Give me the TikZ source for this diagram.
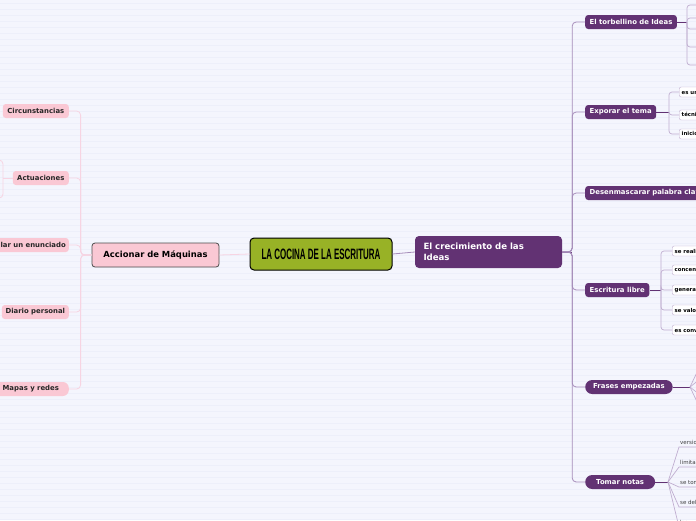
\documentclass[tikz,border=0pt]{standalone}
\usepackage{fontspec}
\usepackage{graphicx}
\usepackage{tikz}
\usepackage{xcolor}
\setmainfont{DejaVu Sans}
\newfontfamily\titrefont{Liberation Sans}
\definecolor{fondpapier}{RGB}{244,245,253}
\definecolor{lignefond}{RGB}{237,239,250}
\definecolor{olive}{RGB}{152,178,38}
\definecolor{rosefill}{RGB}{250,200,212}
\definecolor{roseligne}{RGB}{247,212,226}
\definecolor{violetfonce}{RGB}{98,50,115}
\definecolor{violetligne}{RGB}{165,140,185}
\definecolor{violetclair}{RGB}{192,174,208}

\begin{document}
\begin{tikzpicture}[x=1pt,y=-1pt,
	rose/.style={rectangle, rounded corners=3pt, fill=rosefill, text=black!85,
		font=\fontsize{6.9}{8}\selectfont\bfseries, minimum height=14pt,
		inner xsep=3pt, inner ysep=0pt, anchor=east},
	violet/.style={rectangle, rounded corners=3pt, fill=violetfonce, text=white,
		font=\fontsize{6.9}{8}\selectfont\bfseries, minimum height=14pt,
		inner xsep=4.5pt, inner ysep=0pt, anchor=west},
	sousboite/.style={rectangle, rounded corners=2pt, draw=violetclair, fill=white,
		text=black, font=\fontsize{5.4}{6}\selectfont\bfseries, minimum height=10pt,
		inner xsep=2.5pt, inner ysep=0pt, anchor=west},
	note/.style={font=\fontsize{5.5}{6.5}\selectfont, text=black!75, inner xsep=1pt,
		inner ysep=2pt, anchor=south west},
	lienrose/.style={draw=roseligne, line width=0.8pt, rounded corners=4pt},
	lienviolet/.style={draw=violetligne, line width=0.8pt, rounded corners=4pt},
	liensous/.style={draw=violetclair, line width=0.7pt, rounded corners=3pt}]

	\useasboundingbox (0,0) rectangle (696,520);
	\clip (0,0) rectangle (696,520);
	% fond ligné
	\fill[fondpapier] (0,0) rectangle (696,520);
	\foreach \y in {3,9,...,520}
		\draw[lignefond, line width=0.3pt] (0,\y) -- (696,\y);

	% noeud central
	\node[rectangle,
		rounded corners=4pt,
		fill=olive,
		draw=black,
		line width=1pt,
		minimum width=142pt,
		minimum height=32pt] (cocina) at (321,254) {%
			\resizebox{119pt}{10.5pt}{\titrefont\bfseries LA COCINA DE LA ESCRITURA}};

	\node[rectangle,
		rounded corners=3pt,
		fill=rosefill,
		draw=black!70,
		line width=0.8pt,
		minimum width=127pt,
		minimum height=24pt,
		font=\fontsize{8.4}{10}\selectfont\bfseries] (accion) at (155.5,255) {Accionar de Máquinas};

	\node[rectangle,
		rounded corners=4pt,
		fill=violetfonce,
		text=white,
		minimum width=147pt,
		minimum height=32pt,
		inner xsep=8.5pt,
		text width=130pt,
		align=left,
		font=\fontsize{8.6}{10.5}\selectfont\bfseries] (crois) at (488.5,252) {El crecimiento de las\\Ideas};

	\draw[roseligne, line width=0.8pt] (cocina.west) -- (accion.east);
	\draw[violetligne, line width=0.8pt] (cocina.east) -- (crois.west);

	% branche gauche
	\node[rose, minimum width=66pt] (circ) at (69,111) {Circunstancias};
	\node[rose, minimum width=56pt] (actu) at (69,178) {Actuaciones};
	\node[rose] (formu) at (69,245) {Formular un enunciado};
	\node[rose, minimum width=67pt] (diario) at (69,312) {Diario personal};
	\node[rose, minimum width=76pt, rounded corners=6pt] (mapas) at (69,389) {Mapas y redes};

	\foreach \n in {circ,actu,formu,diario,mapas}
		\draw[lienrose] (accion.west) -- ++(-11,0) |- (\n.east);

	\coordinate (actuJ) at (3,178);
	\coordinate (actuH) at (-6,160);
	\coordinate (actuB) at (-6,198);
	\draw[lienrose] (actu.west) -- (actuJ);
	\draw[lienrose] (actuH) -| (actuJ) |- (actuB);

	% branche droite
	\node[violet] (torb) at (585,22) {El torbellino de Ideas};
	\node[violet] (expo) at (585,112) {Exporar el tema};
	\node[violet] (desen) at (585,193) {Desenmascarar palabra clave};
	\node[violet] (libre) at (585,290) {Escritura libre};
	\node[violet, rounded corners=7pt, inner xsep=8pt] (frases) at (585,387) {Frases empezadas};
	\node[violet, rounded corners=7pt, inner xsep=11pt] (notas) at (585,482) {Tomar notas};

	\draw[violetfonce, line width=1pt] (crois.east) -- ++(10,0);
	\foreach \n in {torb,expo,desen,libre,frases,notas}
		\draw[lienviolet] (crois.east) -- ++(10,0) |- (\n.west);

	% El torbellino de Ideas
	\coordinate (torbJ) at (687,22);
	\draw[violetfonce, line width=0.9pt] (torb.east) -- (torbJ);
	\foreach \y [count=\i] in {5,18,29,47,65}
		\coordinate (t\i) at (700,\y);
	\foreach \i in {1,...,5}
		\draw[liensous] (torbJ) |- (t\i);

	% Exporar el tema
	\coordinate (expoJ) at (669,112);
	\draw[violetfonce, line width=0.9pt] (expo.east) -- (expoJ);
	\node[sousboite] (e1) at (679,92) {es una técnica};
	\node[sousboite] (e2) at (679,115) {técnica de exploración};
	\node[sousboite] (e3) at (679,134) {inicio del proceso};
	\foreach \n in {e1,e2,e3}
		\draw[liensous] (expoJ) |- (\n.west);

	% Escritura libre
	\coordinate (libreJ) at (661,290);
	\draw[violetfonce, line width=0.9pt] (libre.east) -- (libreJ);
	\node[sousboite] (l1) at (672,251) {se realiza};
	\node[sousboite] (l2) at (672,270) {concentrarse};
	\node[sousboite] (l3) at (672,290) {generar ideas};
	\node[sousboite] (l4) at (672,310) {se valora};
	\node[sousboite] (l5) at (672,330) {es conveniente};
	\foreach \n in {l1,l2,l3,l4,l5}
		\draw[liensous] (libreJ) |- (\n.west);

	% Frases empezadas
	\coordinate (frasesJ) at (690,387);
	\draw[violetfonce, line width=0.9pt] (frases.east) -- (frasesJ);
	\foreach \y [count=\i] in {366,379,395,408}
		\coordinate (f\i) at (700,\y);
	\foreach \i in {1,...,4}
		\draw[violetclair, line width=0.7pt] (frasesJ) -- (f\i);

	% Tomar notas
	\coordinate (notasJ) at (668,482);
	\draw[violetfonce, line width=0.9pt] (notas.east) -- (notasJ);
	\node[note] (n1) at (679,447) {versiones};
	\node[note] (n2) at (679,467) {limitar};
	\node[note] (n3) at (679,487) {se toman};
	\node[note] (n4) at (679,507) {se deben};
	\node[note] (n5) at (679,527) {las};
	\foreach \n in {n1,n2,n3,n4,n5}
		\draw[violetclair, line width=0.7pt] (notasJ) -- (\n.south west) -- ++(30,0);
\end{tikzpicture}
\end{document}
